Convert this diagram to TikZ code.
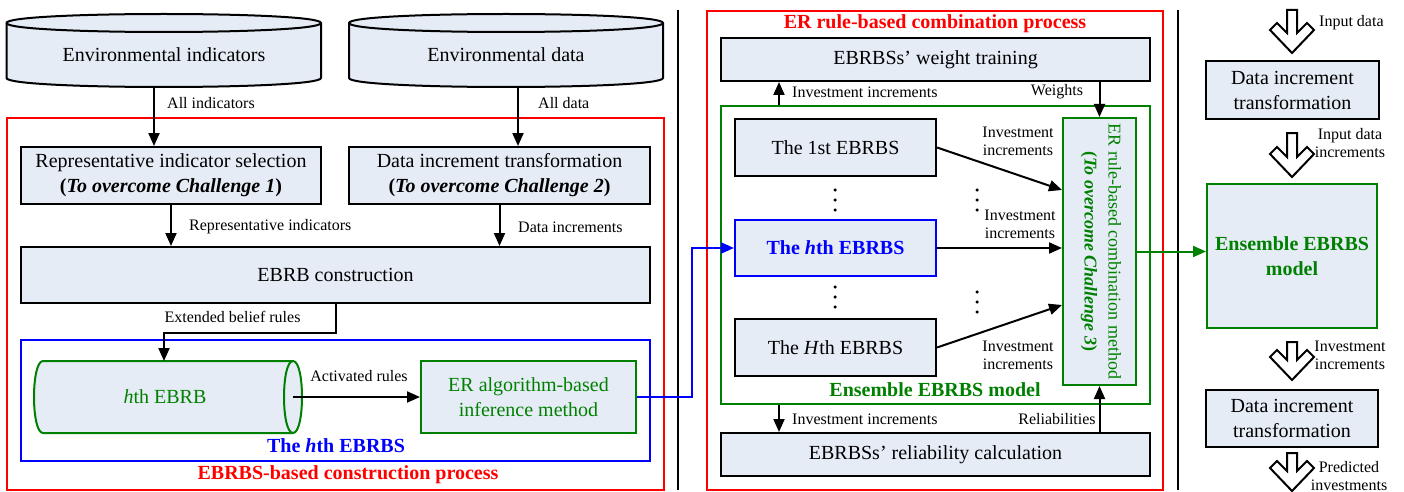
\documentclass[tikz,border=0pt]{standalone}
\usepackage{fontspec}
\setmainfont{Liberation Serif}
\usetikzlibrary{arrows.meta}
\definecolor{boxfill}{RGB}{230,236,246}
\definecolor{grn}{RGB}{0,128,0}
\newcommand{\hollowarrow}[3]{%
  \draw[line width=2pt, fill=white, line join=miter]
    ({#1-5},{#2}) -- ({#1+5},{#2}) -- ({#1+5},{#3-20}) -- ({#1+15},{#3-30})
    -- ({#1+22},{#3-23}) -- ({#1},{#3}) -- ({#1-22},{#3-23}) -- ({#1-15},{#3-30})
    -- ({#1-5},{#3-20}) -- cycle;}
\begin{document}
\begin{tikzpicture}[x=1pt,y=-1pt,
  font=\fontsize{20}{25}\selectfont,
  box/.style={draw=black, line width=2pt, fill=boxfill, inner sep=0pt, align=center},
  gbox/.style={box, draw=grn, text=grn},
  frame/.style={line width=2pt},
  lbl/.style={font=\fontsize{16}{18}\selectfont, inner sep=0pt, align=center},
  title/.style={font=\fontsize{20}{24}\selectfont\bfseries, inner sep=0pt},
  arr/.style={line width=2pt, -{Triangle[length=13pt,width=11pt]}},
  dot/.style={circle, fill=black, inner sep=0pt, minimum size=3.5pt}]
\useasboundingbox (0,0) rectangle (1404,492);

% ---------- frames and dividers ----------
\draw[frame, red] (6.5,118) rectangle (663.5,490);
\draw[frame, red] (707,11) rectangle (1163,490);
\draw[line width=2pt] (678,10) -- (678,490);
\draw[line width=2pt] (1178,10) -- (1178,490);

% ---------- left panel ----------
% cylinder 1
\draw[line width=2pt, fill=boxfill] (6.5,23) -- (6.5,78) .. controls (6.5,90) and (321,90) .. (321,78)
  -- (321,23) .. controls (321,11) and (6.5,11) .. (6.5,23) -- cycle;
\draw[line width=2pt] (6.5,23) .. controls (6.5,35) and (321,35) .. (321,23);
\node[inner sep=0pt] (cyl1) at (164,55) {Environmental indicators};
\coordinate (cyl1b) at (154,87);
% cylinder 2
\draw[line width=2pt, fill=boxfill] (349,23) -- (349,78) .. controls (349,90) and (663,90) .. (663,78)
  -- (663,23) .. controls (663,11) and (349,11) .. (349,23) -- cycle;
\draw[line width=2pt] (349,23) .. controls (349,35) and (663,35) .. (663,23);
\node[inner sep=0pt] (cyl2) at (506,55) {Environmental data};
\coordinate (cyl2b) at (518,87);

\node[box, minimum width=300pt, minimum height=57pt] (rep) at (171,175.5)
  {Representative indicator selection\\\textbf{(}\textbf{\textit{To overcome Challenge 1}}\textbf{)}};
\node[box, minimum width=301pt, minimum height=57pt] (dit) at (499.5,175.5)
  {Data increment transformation\\\textbf{(}\textbf{\textit{To overcome Challenge 2}}\textbf{)}};
\node[box, minimum width=629pt, minimum height=56pt] (ebrb) at (335.5,275) {EBRB construction};

\draw[arr] (cyl1b) -- (cyl1b |- rep.north);
\draw[arr] (cyl2b) -- (cyl2b |- dit.north);
\node[lbl, anchor=west] at (167,103) {All indicators};
\node[lbl, anchor=west] at (538,103) {All data};
\draw[arr] (rep.south) -- (rep.south |- ebrb.north);
\draw[arr] (dit.south) -- (dit.south |- ebrb.north);
\node[lbl, anchor=west] at (189,227) {Representative indicators};
\node[lbl, anchor=west] at (518,227) {Data increments};

% blue EBRBS frame
\node[draw=blue, line width=2pt, minimum width=629pt, minimum height=121pt, inner sep=0pt] (hframe) at (335.5,400.5) {};
\node[title, text=blue] at (336,446) {The \textit{h}th EBRBS};

% hth EBRB horizontal cylinder
\draw[line width=2pt, draw=grn, fill=boxfill] (43,361) -- (293,361) .. controls (305,361) and (305,433) .. (293,433)
  -- (43,433) .. controls (31,433) and (31,361) .. (43,361) -- cycle;
\draw[line width=2pt, draw=grn] (293,361) .. controls (281,361) and (281,433) .. (293,433);
\node[inner sep=0pt, text=grn] (hcyl) at (165,397) {\textit{h}th EBRB};
\coordinate (hcylt) at (164,361);
\coordinate (hcylr) at (293,397);

\node[gbox, minimum width=215pt, minimum height=72pt] (era) at (528.5,397)
  {ER algorithm-based\\inference method};

\draw[arr] (ebrb.south) -- (ebrb.south |- 0,333) -| (hcylt);
\node[lbl] at (232.5,317) {Extended belief rules};
\draw[arr] (hcylr) -- (era.west);
\node[lbl] at (359,376) {Activated rules};
\node[title, text=red] at (348,475) {EBRBS-based construction process};

% ---------- middle panel ----------
\node[title, text=red] at (935,24) {ER rule-based combination process};
\node[box, minimum width=429pt, minimum height=43pt] (wt) at (935.5,59.5) {EBRBSs' weight training};
\node[draw=grn, line width=2pt, minimum width=429pt, minimum height=298pt, inner sep=0pt] (ens) at (935.5,255) {};
\node[box, minimum width=201pt, minimum height=57pt] (first) at (835.5,147.5) {The 1st EBRBS};
\node[box, draw=blue, text=blue, font=\fontsize{20}{24}\selectfont\bfseries, minimum width=201pt, minimum height=56pt] (hth) at (835.5,248) {The \textit{h}th EBRBS};
\node[box, minimum width=201pt, minimum height=57pt] (Hth) at (835.5,347.5) {The \textit{H}th EBRBS};
\node[gbox, minimum width=73pt, minimum height=267pt] (erc) at (1099.5,251.5) {};
\node[rotate=-90, text=grn, align=center, inner sep=0pt, font=\fontsize{18}{24}\selectfont] (erct) at (1101,251.5)
  {ER rule-based combination method\\\textbf{(}\textbf{\textit{To overcome Challenge 3}}\textbf{)}};
\node[box, minimum width=429pt, minimum height=43pt] (rel) at (935.5,454.5) {EBRBSs' reliability calculation};

\foreach \y in {190,200,210,287,297,307} \node[dot] at (835,\y) {};
\foreach \y in {190,200,210,292,302,312} \node[dot] at (977,\y) {};

\draw[arr] ([xshift=-156.5pt]ens.north) -- ([xshift=-156.5pt]wt.south);
\node[lbl, anchor=west] at (792,92) {Investment increments};
\draw[arr] (erc.north |- wt.south) -- (erc.north);
\node[lbl] at (1057,92) {Weights};

\draw[arr] (first.east) -- ([yshift=61.5pt]erc.west);
\node[lbl] at (1018,141) {Investment\\increments};
\draw[arr] (hth.east) -- (erc.west |- hth.east);
\node[lbl] at (1020,224) {Investment\\increments};
\draw[arr] (Hth.east) -- ([yshift=-53.5pt]erc.west);
\node[lbl] at (1018,355) {Investment\\increments};

\node[title, text=grn] at (935,390) {Ensemble EBRBS model};
\draw[arr] ([xshift=-156.5pt]ens.south) -- ([xshift=-156.5pt]rel.north);
\node[lbl, anchor=west] at (792,419) {Investment increments};
\draw[arr] (erc.south |- rel.north) -- (erc.south);
\node[lbl] at (1057,419) {Reliabilities};

% blue connector from left panel to hth EBRBS
\draw[line width=2pt, blue, -{Triangle[length=13pt,width=11pt]}] (era.east) -- (692,397) |- (hth.west);

% ---------- right column ----------
\node[box, minimum width=173pt, minimum height=58pt] (dit1) at (1292.5,90) {Data increment\\transformation};
\node[gbox, font=\fontsize{20}{25}\selectfont\bfseries, minimum width=170pt, minimum height=144pt] (ensR) at (1292,256) {Ensemble EBRBS\\model};
\node[box, minimum width=172pt, minimum height=57pt] (dit2) at (1292,418.5) {Data increment\\transformation};

\draw[line width=2pt, grn, -{Triangle[length=13pt,width=11pt]}] (erc.east) -- (erc.east -| ensR.west);

\hollowarrow{1292}{10}{53}
\node[lbl, anchor=west] at (1319,23) {Input data};
\hollowarrow{1292}{133}{177}
\node[lbl] at (1350,143) {Input data\\increments};
\hollowarrow{1292}{342}{380}
\node[lbl] at (1350,355) {Investment\\increments};
\hollowarrow{1292}{453}{491}
\node[lbl] at (1349,476) {Predicted\\investments};
\end{tikzpicture}
\end{document}
